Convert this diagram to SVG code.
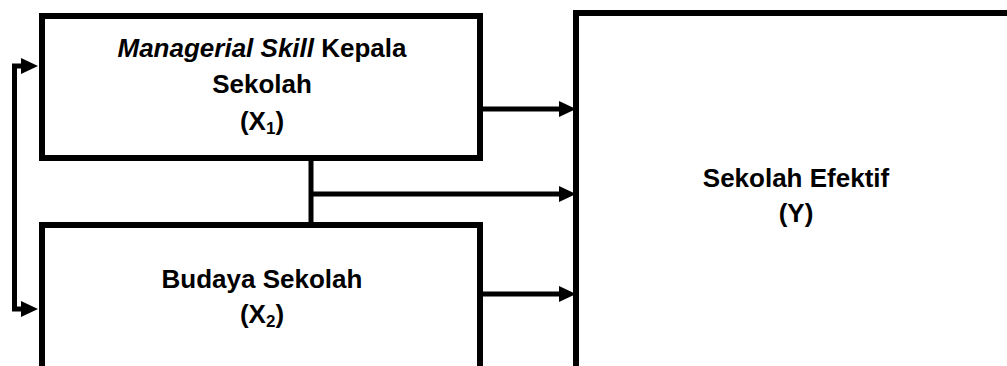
<svg xmlns="http://www.w3.org/2000/svg" width="1007" height="366" viewBox="0 0 1007 366">
  <style>
    .box { fill: #ffffff; stroke: #000000; stroke-width: 6; }
    .lbl { font-family: "Liberation Sans", Arial, sans-serif; font-weight: bold; font-size: 26px; fill: #000000; text-anchor: middle; }
    .sub { font-size: 17px; }
    .conn { fill: none; stroke: #000000; stroke-width: 5; }
  </style>
  <defs>
    <marker id="ah" markerUnits="userSpaceOnUse" markerWidth="17" markerHeight="17" refX="0" refY="8" orient="auto-start-reverse" viewBox="0 0 17 16">
      <path d="M0,0 L17,8 L0,16 Z" fill="#000000"/>
    </marker>
  </defs>
  <rect x="0" y="0" width="1007" height="366" fill="#ffffff"/>

  <g id="connectors">
    <line class="conn" x1="480" y1="109" x2="559" y2="109" marker-end="url(#ah)"/>
    <line class="conn" x1="311" y1="158" x2="311" y2="225"/>
    <line class="conn" x1="311" y1="194" x2="559" y2="194" marker-end="url(#ah)"/>
    <line class="conn" x1="480" y1="294" x2="559" y2="294" marker-end="url(#ah)"/>
    <path class="conn" d="M21,66 H14.5 V309 H21" marker-start="url(#ah)" marker-end="url(#ah)"/>
  </g>

  <g id="x1">
    <rect class="box" x="42" y="16" width="438" height="142"/>
    <text class="lbl" x="262" y="57"><tspan font-style="italic">Managerial Skill</tspan> Kepala</text>
    <text class="lbl" x="262" y="93">Sekolah</text>
    <text class="lbl" x="262" y="130">(X<tspan class="sub" dy="4">1</tspan><tspan dy="-4">)</tspan></text>
  </g>

  <g id="x2">
    <rect class="box" x="42" y="225" width="438" height="146"/>
    <text class="lbl" x="262" y="288">Budaya Sekolah</text>
    <text class="lbl" x="262" y="323">(X<tspan class="sub" dy="4">2</tspan><tspan dy="-4">)</tspan></text>
  </g>

  <g id="y">
    <rect class="box" x="576" y="13" width="440" height="358"/>
    <text class="lbl" x="796" y="187">Sekolah Efektif</text>
    <text class="lbl" x="796" y="222">(Y)</text>
  </g>
</svg>
